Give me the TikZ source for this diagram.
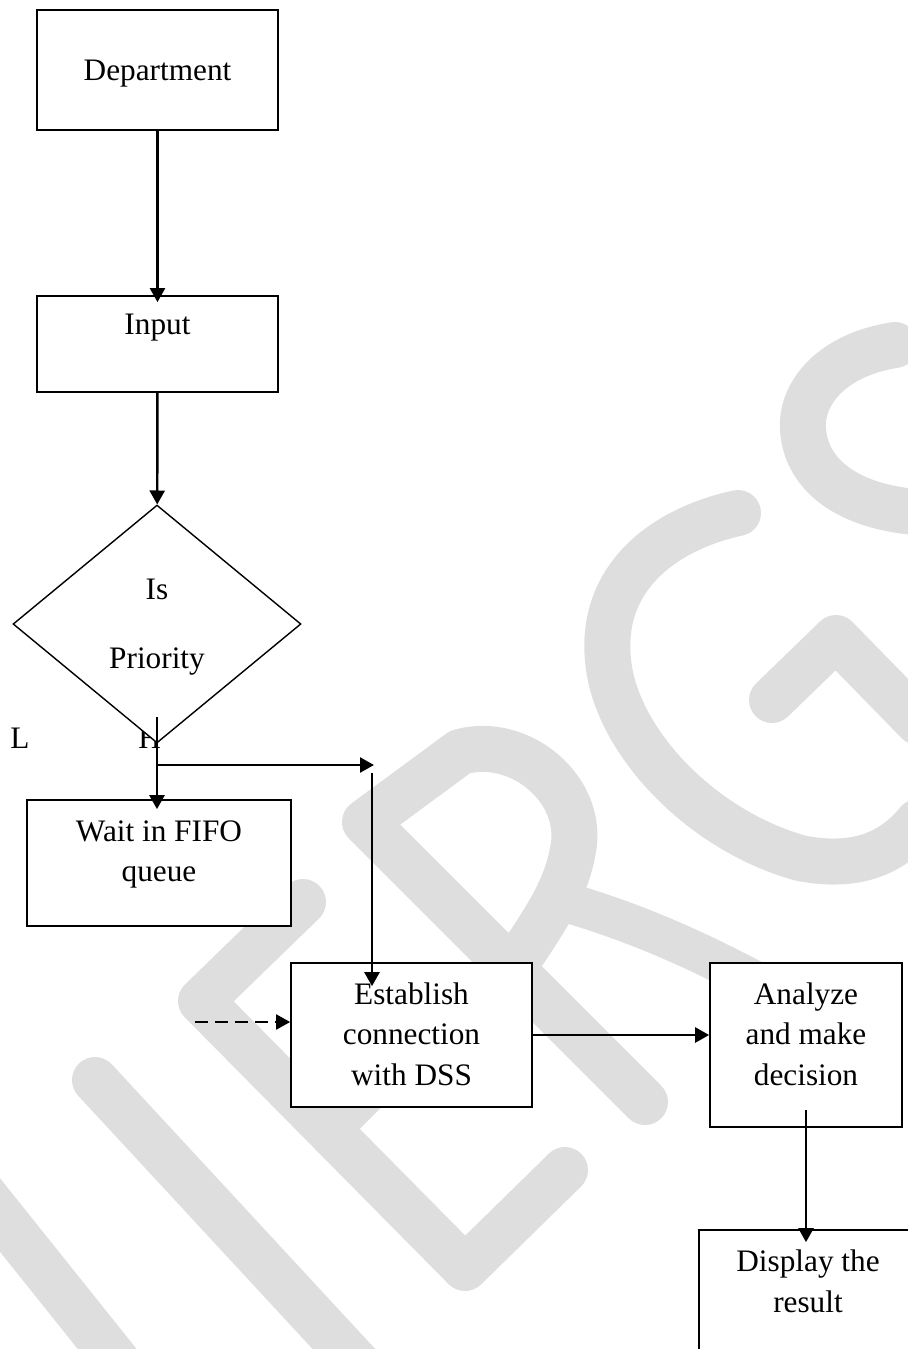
\documentclass[tikz,border=0pt]{standalone}
\usepackage{fontspec}
\setmainfont{Liberation Serif}
\usepackage{tikz}
\usetikzlibrary{arrows.meta,shapes.geometric}
\definecolor{wmgray}{HTML}{DEDEDE}
\tikzset{
  box/.style={
    rectangle,
    draw=black,
    fill=white,
    line width=1pt,
    inner sep=0pt,
    align=center,
    font=\fontsize{17.8}{23}\selectfont
  },
  decision/.style={
    diamond,
    draw=black,
    fill=white,
    line width=0.8pt,
    inner sep=0pt,
    minimum width=5.76cm,
    minimum height=4.76cm,
    align=center,
    font=\fontsize{17.8}{23}\selectfont
  },
  tag/.style={inner sep=0pt, anchor=base west, font=\fontsize{17.8}{23}\selectfont},
  arrow/.style={-{Triangle[length=0.28cm,width=0.3cm]}, line width=1.4pt, draw=black},
  dasharrow/.style={arrow, line width=1.2pt, dash pattern=on 0.26cm off 0.14cm},
  wmark/.style={draw=wmgray, line width=0.92cm, line cap=round, line join=round}
}

\begin{document}
\begin{tikzpicture}[x=0.02cm, y=-0.02cm]

\clip (0,0) rectangle (908,1349);

\draw[wmark] (895,345) .. controls (830,355) and (800,395) .. (803,430)
  .. controls (806,470) and (840,505) .. (915,512);
\draw[wmark] (738,513) .. controls (660,530) and (600,580) .. (608,660)
  .. controls (615,740) and (700,830) .. (800,858)
  .. controls (860,870) and (895,850) .. (918,822);
\draw[wmark] (772,700) -- (836,638) -- (918,722);
\draw[wmark] (645,1102) -- (365,822) -- (460,752)
  .. controls (520,735) and (585,790) .. (573,850)
  .. controls (566,890) and (545,920) .. (515,965);
\draw[wmark, line width=0.8cm] (575,905) .. controls (640,925) and (700,950) .. (790,1000);
\draw[wmark] (303,902) -- (201,1001) -- (465,1268) -- (565,1170);
\draw[wmark] (328,1128) -- (450,1006);
\draw[wmark] (95,1080) -- (380,1388);
\draw[wmark] (-20,1190) -- (140,1390);

\node[box, minimum width=4.82cm, minimum height=2.4cm, text depth=0pt] (dept) at (157.5,70) {Department};

\node[box, minimum width=4.82cm, minimum height=1.92cm, text depth=0.77cm] (input) at (157.5,344) {Input};

\node[tag] (low) at (10,748) {L};
\node[tag] (high) at (138,748) {H};

\node[decision, text depth=-0.17cm] (priority) at (157,624) {Is\\[16.4pt]Priority};

\node[box, minimum width=5.28cm, minimum height=2.52cm, text depth=0.48cm] (wait) at (159,863) {Wait in FIFO\\queue};

\node[box, minimum width=4.82cm, minimum height=2.88cm, text depth=0.04cm] (establish) at (411.5,1035) {Establish\\connection\\with DSS};

\node[box, minimum width=3.84cm, minimum height=3.28cm, text depth=0.44cm] (analyze) at (806,1045) {Analyze\\and make\\decision};

\node[box, minimum width=4.36cm, minimum height=3.4cm, text depth=1.36cm] (display) at (808,1315) {Display the\\result};

\coordinate (split) at (157,717);
\coordinate (fork) at (157,765);
\coordinate (forkend) at (374,765);
\coordinate (drop) at (372,773);
\coordinate (dashstart) at (195,1022);
\coordinate (result) at (806,1110);

\draw[arrow, shorten >=-0.14cm] (dept) -- (input);
\draw[arrow] (input) -- (priority);
\draw[arrow, shorten >=-0.2cm] (split) -- (split |- wait.north);
\draw[arrow] (fork) -- (forkend);
\draw[arrow, shorten >=-0.48cm] (drop) -- (drop |- establish.north);
\draw[dasharrow] (dashstart) -- (dashstart -| establish.west);
\draw[arrow] (establish.east) -- (establish.east -| analyze.west);
\draw[arrow, shorten >=-0.26cm] (result) -- (result |- display.north);

\end{tikzpicture}
\end{document}
